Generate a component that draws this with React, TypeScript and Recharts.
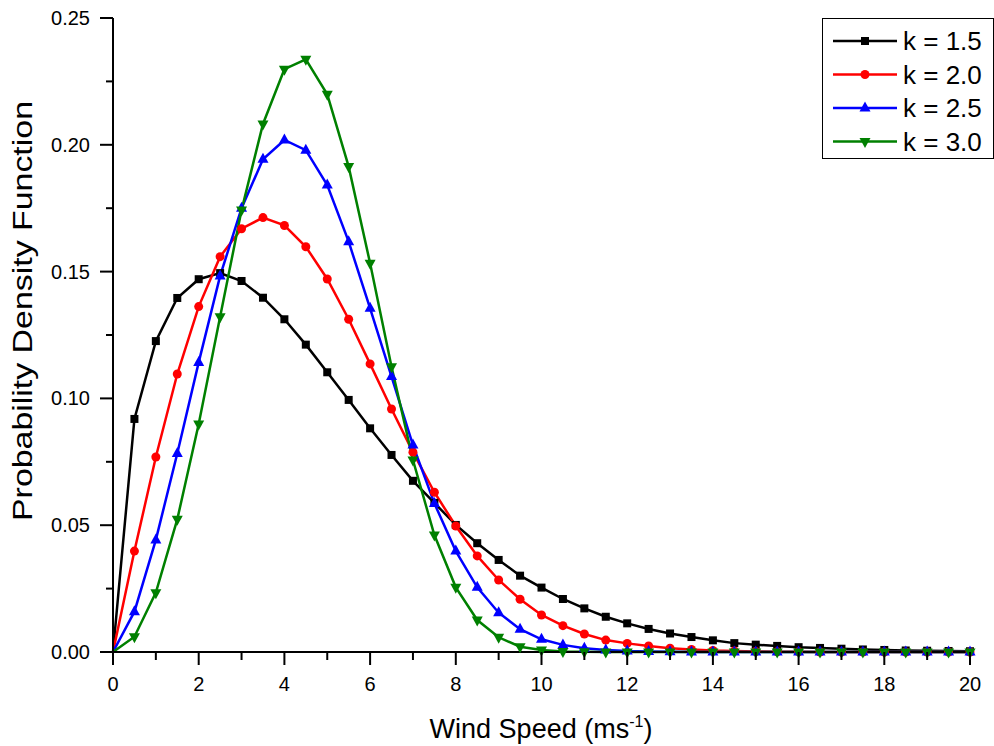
import React from "react";
import { LineChart, Line, XAxis, YAxis, Label } from "recharts";

// wind speed (m/s), one point every 0.5
const SPEED = [
  0, 0.5, 1, 1.5, 2, 2.5, 3, 3.5, 4, 4.5, 5, 5.5, 6, 6.5, 7, 7.5, 8, 8.5, 9, 9.5, 10,
  10.5, 11, 11.5, 12, 12.5, 13, 13.5, 14, 14.5, 15, 15.5, 16, 16.5, 17, 17.5, 18, 18.5,
  19, 19.5, 20,
];

// pdf values
const PDF_K15 = [
  0, 0.0919, 0.1226, 0.1396, 0.147, 0.1494, 0.1463, 0.1397, 0.1312, 0.1212, 0.1103,
  0.0994, 0.0882, 0.0777, 0.0675, 0.0588, 0.0501, 0.0429, 0.0363, 0.0301, 0.0254,
  0.0209, 0.0172, 0.0139, 0.0113, 0.0091, 0.0073, 0.0059, 0.0046, 0.0035, 0.0029,
  0.0024, 0.0019, 0.0016, 0.0013, 0.001, 0.0008, 0.0006, 0.0005, 0.0004, 0.0003,
];
const PDF_K20 = [
  0, 0.0398, 0.0769, 0.1096, 0.1362, 0.1559, 0.1669, 0.1713, 0.1682, 0.1598, 0.1471,
  0.1312, 0.1136, 0.0958, 0.0788, 0.063, 0.0497, 0.0379, 0.0284, 0.0208, 0.0146,
  0.0104, 0.0071, 0.0047, 0.0034, 0.0024, 0.0015, 0.001, 0.0006, 0.0004, 0.0002,
  0.0001, 0.0001, 0, 0, 0, 0, 0, 0, 0, 0,
];
const PDF_K25 = [
  0, 0.0159, 0.0442, 0.0783, 0.1142, 0.1483, 0.175, 0.1943, 0.2019, 0.1979, 0.1841,
  0.1618, 0.1355, 0.1086, 0.0816, 0.0586, 0.0398, 0.0255, 0.0155, 0.009, 0.005,
  0.0028, 0.0015, 0.0008, 0.0004, 0.0002, 0.0001, 0, 0, 0, 0,
  0, 0, 0, 0, 0, 0, 0, 0, 0, 0,
];
const PDF_K30 = [
  0, 0.006, 0.0234, 0.0523, 0.0899, 0.1322, 0.1743, 0.2082, 0.2298, 0.2337, 0.2199,
  0.1914, 0.1533, 0.1125, 0.0757, 0.0461, 0.0255, 0.0126, 0.0058, 0.0021, 0.0008,
  0.0002, 0.0001, 0, 0, 0, 0, 0, 0, 0, 0,
  0, 0, 0, 0, 0, 0, 0, 0, 0, 0,
];

const X_TICKS = [0, 1, 2, 3, 4, 5, 6, 7, 8, 9, 10, 11, 12, 13, 14, 15, 16, 17, 18, 19, 20];
const X_LABELED = [0, 2, 4, 6, 8, 10, 12, 14, 16, 18, 20];
const Y_TICKS = [0, 0.025, 0.05, 0.075, 0.1, 0.125, 0.15, 0.175, 0.2, 0.225, 0.25];
const Y_LABELED = [0, 0.05, 0.1, 0.15, 0.2, 0.25];

const SERIES_NAMES = ["k = 1.5", "k = 2.0", "k = 2.5", "k = 3.0"];

const FONT = "Arial, 'Liberation Sans', Helvetica, sans-serif";

type Shape = "square" | "circle" | "up" | "down";

const series: { key: string; name: string; color: string; shape: Shape; values: number[] }[] = [
  { key: "k15", name: SERIES_NAMES[0], color: "#000000", shape: "square", values: PDF_K15 },
  { key: "k20", name: SERIES_NAMES[1], color: "#ff0000", shape: "circle", values: PDF_K20 },
  { key: "k25", name: SERIES_NAMES[2], color: "#0000ff", shape: "up", values: PDF_K25 },
  { key: "k30", name: SERIES_NAMES[3], color: "#008000", shape: "down", values: PDF_K30 },
];

const data = SPEED.map((x, i) => {
  const row: Record<string, number> = { x };
  series.forEach((s) => (row[s.key] = s.values[i]));
  return row;
});

function marker(shape: Shape, cx: number, cy: number, color: string) {
  switch (shape) {
    case "square":
      return <rect x={cx - 4} y={cy - 4} width={8} height={8} fill={color} />;
    case "circle":
      return <circle cx={cx} cy={cy} r={4.5} fill={color} />;
    case "up":
      return <polygon points={`${cx},${cy - 6.5} ${cx + 5.5},${cy + 3.5} ${cx - 5.5},${cy + 3.5}`} fill={color} />;
    default:
      return <polygon points={`${cx - 5.5},${cy - 3.5} ${cx + 5.5},${cy - 3.5} ${cx},${cy + 6.5}`} fill={color} />;
  }
}

function XTick(props: any) {
  const { x, y, payload } = props;
  const major = X_LABELED.includes(payload.value);
  return (
    <g>
      <line x1={x} x2={x} y1={y} y2={y + (major ? 13 : 8)} stroke="#000" strokeWidth={2} />
      {major && (
        <text x={x} y={y + 39} textAnchor="middle" fontSize={20} fontFamily={FONT} fill="#000">
          {payload.value}
        </text>
      )}
    </g>
  );
}

function YTick(props: any) {
  const { x, y, payload } = props;
  const major = Y_LABELED.some((v) => Math.abs(v - payload.value) < 1e-9);
  return (
    <g>
      <line x1={x - (major ? 13 : 7)} x2={x} y1={y} y2={y} stroke="#000" strokeWidth={2} />
      {major && (
        <text x={x - 23} y={y + 7} textAnchor="end" fontSize={20} fontFamily={FONT} fill="#000">
          {payload.value.toFixed(2)}
        </text>
      )}
    </g>
  );
}

function LegendBox() {
  return (
    <svg width={172} height={141} style={{ position: "absolute", left: 822, top: 18 }}>
      <rect x={0.5} y={0.5} width={171} height={140} fill="#fff" stroke="#000" strokeWidth={1} />
      {series.map((s, i) => {
        const cy = 23 + i * 33.5;
        return (
          <g key={s.key}>
            <line x1={11} x2={75} y1={cy} y2={cy} stroke={s.color} strokeWidth={2.5} />
            {marker(s.shape, 43, cy, s.color)}
            <text x={81} y={cy + 9} fontSize={26} fontFamily={FONT} fill="#000">
              {s.name}
            </text>
          </g>
        );
      })}
    </svg>
  );
}

export default function App() {
  return (
    <div style={{ position: "absolute", left: 0, top: 0, width: 994, height: 746, background: "#fff" }}>
      <LineChart
        width={994}
        height={746}
        data={data}
        margin={{ top: 18, right: 24, bottom: 44, left: 33 }}
      >
        <XAxis
          dataKey="x"
          type="number"
          domain={[0, 20]}
          ticks={X_TICKS}
          interval={0}
          height={50}
          tickSize={0}
          tickMargin={0}
          tick={<XTick />}
          axisLine={{ stroke: "#000", strokeWidth: 2 }}
          tickLine={false}
        >
          <Label
            content={() => (
              <text x={541} y={738} textAnchor="middle" fontSize={27} fontFamily={FONT} fill="#000">
                Wind Speed (ms
                <tspan dy={-11} fontSize={16}>-1</tspan>
                <tspan dy={11}>)</tspan>
              </text>
            )}
          />
        </XAxis>
        <YAxis
          type="number"
          domain={[0, 0.25]}
          ticks={Y_TICKS}
          interval={0}
          width={80}
          tickSize={0}
          tickMargin={0}
          tick={<YTick />}
          axisLine={{ stroke: "#000", strokeWidth: 2 }}
          tickLine={false}
        >
          <Label
            content={() => (
              <text
                x={32}
                y={311}
                transform="rotate(-90 32 311)"
                textAnchor="middle"
                fontSize={27}
                fontFamily={FONT}
                fill="#000"
                textLength={420}
                lengthAdjust="spacingAndGlyphs"
              >
                Probability Density Function
              </text>
            )}
          />
        </YAxis>
        {series.map((s) => (
          <Line
            key={s.key}
            dataKey={s.key}
            name={s.name}
            type="linear"
            stroke={s.color}
            strokeWidth={2.5}
            isAnimationActive={false}
            activeDot={false}
            dot={(p: any) => (
              <g key={`${s.key}-${p.index}`}>
                {p.index === 0 ? null : marker(s.shape, p.cx, p.cy, s.color)}
              </g>
            )}
          />
        ))}
      </LineChart>
      <LegendBox />
    </div>
  );
}
